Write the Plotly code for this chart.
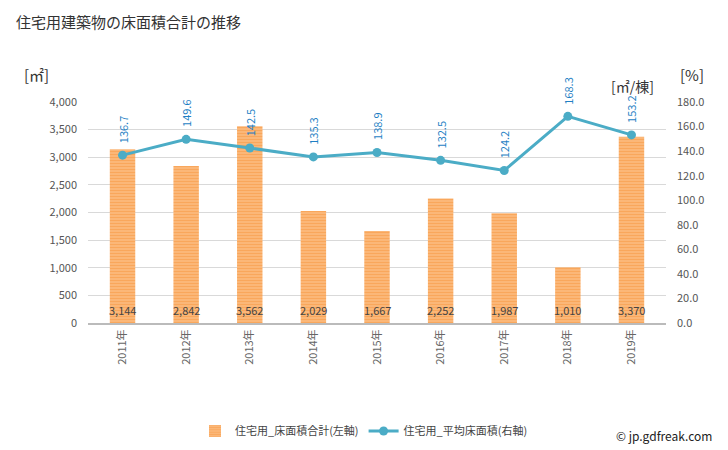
import plotly.graph_objects as go

years = ["2011年", "2012年", "2013年", "2014年", "2015年", "2016年", "2017年", "2018年", "2019年"]
floor_area = [3144, 2842, 3562, 2029, 1667, 2252, 1987, 1010, 3370]
avg_area = [136.7, 149.6, 142.5, 135.3, 138.9, 132.5, 124.2, 168.3, 153.2]

FONT = "Noto Sans CJK JP"
W, H = 728, 450
fig = go.Figure()
fig.add_trace(go.Bar(
    x=years, y=floor_area, name="住宅用_床面積合計(左軸)",
    marker=dict(color="#fbbf84", line=dict(width=0),
                pattern=dict(shape="-", fgcolor="#f78f33", bgcolor="#fbbf84", size=3, solidity=0.55)),
    width=0.4, yaxis="y",
))
fig.add_trace(go.Scatter(
    x=years, y=avg_area, name="住宅用_平均床面積(右軸)", mode="lines+markers",
    line=dict(color="#4bacc6", width=3), marker=dict(size=9, color="#4bacc6"),
    yaxis="y2",
))

ann = []
for x, v in zip(years, floor_area):
    ann.append(dict(x=x, y=0, xref="x", yref="y", text=f"{v:,}", showarrow=False,
                    yanchor="bottom", yshift=3, font=dict(size=11, color="#444", family=FONT)))
for x, v in zip(years, avg_area):
    ann.append(dict(x=x, y=v, xref="x", yref="y2", text=f"{v:.1f}", showarrow=False,
                    textangle=-90, yanchor="bottom", yshift=10,
                    font=dict(size=11, color="#1f7fc4", family=FONT)))

def pix(x, y, text, size, color="#333", xanchor="center"):
    return dict(x=x / W, y=1 - y / H, xref="paper", yref="paper", text=text, showarrow=False,
                xanchor=xanchor, yanchor="middle", font=dict(size=size, color=color, family=FONT))

ann += [
    pix(14, 22, "住宅用建築物の床面積合計の推移", 15, xanchor="left"),
    pix(36, 75, "[㎡]", 15),
    pix(692, 75, "[%]", 15),
    pix(632, 86, "[㎡/棟]", 14),
    pix(714, 435, "© jp.gdfreak.com", 12, color="#222", xanchor="right"),
]

fig.update_layout(
    width=W, height=H, margin=dict(l=0, r=0, t=0, b=0, autoexpand=False),
    paper_bgcolor="white", plot_bgcolor="white",
    font=dict(family=FONT, size=11, color="#555"),
    xaxis=dict(domain=[88 / W, 666 / W], tickangle=-90, showline=True, linecolor="#bbb", linewidth=2,
               ticks="", tickfont=dict(size=11, color="#666"), automargin=False),
    yaxis=dict(domain=[1 - 323 / H, 1 - 102 / H], range=[0, 4000], dtick=500, tickformat=",",
               showgrid=True, gridcolor="#d9d9d9", zeroline=False, tickfont=dict(size=11, color="#555"),
               ticks="", ticklabelstandoff=10, automargin=False),
    yaxis2=dict(range=[0, 180], dtick=20, tickformat=".1f", overlaying="y", side="right", showgrid=False,
                zeroline=False, tickfont=dict(size=11, color="#555"), ticks="", ticklabelstandoff=10,
                automargin=False),
    legend=dict(orientation="h", x=0.5, xanchor="center", y=1 - 431 / H, yanchor="middle",
                font=dict(size=11, color="#444", family=FONT)),
    annotations=ann, showlegend=True,
)
fig.write_html("out.html", config={"displayModeBar": False},
               post_script="document.body.style.margin='0';")
